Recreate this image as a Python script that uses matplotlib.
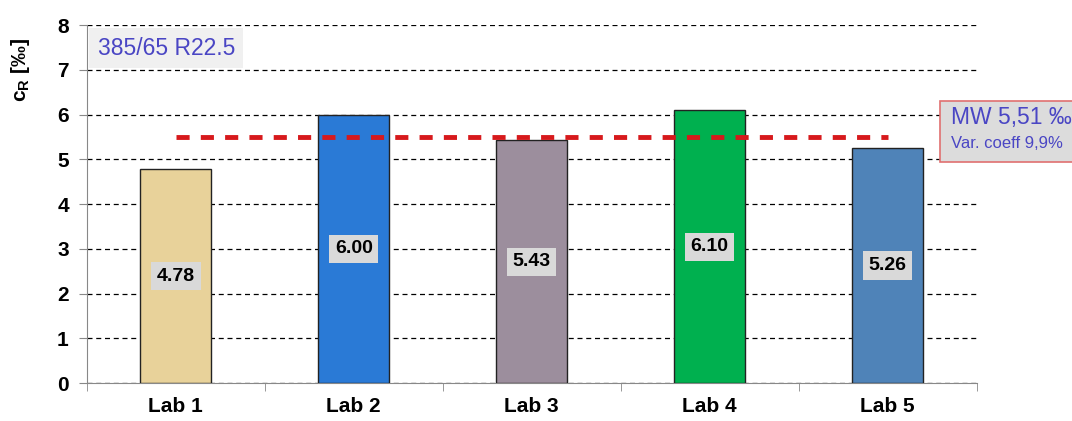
import numpy as np
import matplotlib.pyplot as plt

plt.rcParams['font.family'] = ['Liberation Sans', 'DejaVu Sans']

labs = ["Lab 1", "Lab 2", "Lab 3", "Lab 4", "Lab 5"]
values = [4.78, 6.00, 5.43, 6.10, 5.26]
value_labels = ["4.78", "6.00", "5.43", "6.10", "5.26"]
mean_value = 5.51
bar_colors = ["#E8D29A", "#2A7AD6", "#9C8E9D", "#00B04F", "#4F83B8"]

fig = plt.figure(figsize=(10.72, 4.21), dpi=100)
ax = fig.add_axes([0.081, 0.09, 0.83, 0.85])

x = np.arange(len(labs))

# gridlines behind the bars
ax.set_axisbelow(True)
ax.yaxis.grid(True, linestyle=(0, (4, 3)), color="black", linewidth=0.9)

ax.bar(x, values, width=0.4, color=bar_colors, edgecolor="#222222", linewidth=1.0, zorder=3)

# mean line across the labs
ax.plot(x, [mean_value] * len(x), linestyle=(0, (2.7, 2.3)), color="#D7191C", linewidth=3.5, zorder=4)

# value labels in the middle of the bars
for xi, v, s in zip(x, values, value_labels):
    ax.text(xi, v / 2, s, ha="center", va="center", fontsize=14, fontweight="bold",
            bbox=dict(facecolor="#D9D9D9", edgecolor="none", pad=4), zorder=5)

ax.set_xlim(-0.5, len(labs) - 0.5)
ax.set_ylim(0, 8)
ax.set_yticks(range(0, 9))
ax.set_xticks(x)
ax.set_xticklabels(labs, fontsize=15, fontweight="bold")
ax.tick_params(axis="x", length=0, pad=10)
ax.set_xticks(np.arange(-0.5, len(labs)), minor=True)
ax.tick_params(axis="x", which="minor", length=6, color="#888888", direction="out")
ax.tick_params(axis="y", length=6, color="#888888", labelsize=15, pad=7)
for t in ax.get_yticklabels():
    t.set_fontweight("bold")

for side in ["top", "right"]:
    ax.spines[side].set_visible(False)
ax.spines["left"].set_color("#888888")
ax.spines["bottom"].set_color("#888888")

ax.set_ylabel("c$_\\mathregular{R}$ [‰]", fontsize=15, fontweight="bold")
ax.yaxis.set_label_coords(-0.062, 0.875)

# tyre size box
ax.text(0.012, 0.936, "385/65 R22.5", transform=ax.transAxes, fontsize=16.5, color="#4A46C4",
        ha="left", va="center", bbox=dict(facecolor="#F0F0F0", edgecolor="none", pad=6))

# mean value box
fig.patches.append(plt.Rectangle((0.877, 0.615), 0.14, 0.145, transform=fig.transFigure,
                                 facecolor="#DCDCDC", edgecolor="#E07070", linewidth=1.2))
fig.text(0.887, 0.72, "MW 5,51 ‰", fontsize=16.5, color="#4A46C4", ha="left", va="center")
fig.text(0.887, 0.66, "Var. coeff 9,9%", fontsize=12, color="#4A46C4", ha="left", va="center")

fig.savefig("out.png", dpi=100)
